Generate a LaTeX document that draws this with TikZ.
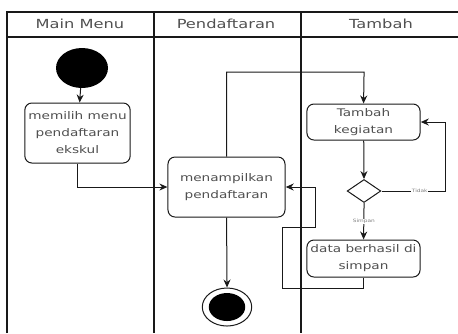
\documentclass[tikz,border=0pt]{standalone}
\usepackage{fontspec}
\setmainfont{DejaVu Sans}
\usepackage{xcolor}
\definecolor{laneline}{RGB}{25,25,25}
\definecolor{inkgray}{RGB}{80,80,80}
\usepackage{tikz}
\usetikzlibrary{
    arrows.meta,
    positioning,
    shapes.geometric
}
\tikzset{
    actbox/.style    = {rectangle, draw=laneline, fill=white, line width=1pt,
                        rounded corners=7pt, align=center, inner sep=2pt,
                        font=\fontsize{10.5}{17}\selectfont, text=inkgray},
    startdot/.style  = {circle, fill=black, inner sep=0pt, minimum size=40pt},
    endring/.style   = {circle, draw=laneline, line width=1pt, fill=white,
                        inner sep=0pt, minimum size=38pt},
    enddot/.style    = {circle, fill=black, inner sep=0pt, minimum size=28pt},
    choice/.style    = {diamond, draw=laneline, fill=white, line width=1pt,
                        inner sep=0pt, minimum width=26pt, minimum height=23pt},
    flow/.style      = {-{Stealth[length=8pt,width=7pt]}, line width=1pt, draw=laneline},
    lanetitle/.style = {font=\fontsize{12.5}{15}\selectfont, text=inkgray},
    guardlbl/.style  = {font=\fontsize{4.5}{5}\selectfont, text=black!50,
                        fill=white, inner sep=0.5pt}
}

\begin{document}
\begin{tikzpicture}[
    x=0.7692pt, y=-1pt, xscale=1.3,
    every node/.append style = {transform shape}
]
\useasboundingbox (0,0) rectangle (458,333);

% --- Swimlanes ---
\draw[laneline, line width=1.3pt] (7,333) -- (7,12) -- (458,12);
\draw[laneline, line width=1.3pt] (7,37) -- (458,37);
\draw[laneline, line width=1.3pt] (154,12) -- (154,333);
\draw[laneline, line width=1.3pt] (301,12) -- (301,333);

\node[lanetitle] (laneMain)   at (80,24)  {Main Menu};
\node[lanetitle] (laneDaftar) at (226,24) {Pendaftaran};
\node[lanetitle] (laneTambah) at (381,24) {Tambah};

% --- Activities ---
\node[startdot] (start) at (82,68) {};
\node[actbox, minimum width=81pt, minimum height=60pt] (pilih) at (77.5,133)
   {memilih menu\\pendaftaran\\ekskul};
\node[actbox, minimum width=90pt, minimum height=60pt] (tampil) at (226.5,187)
   {menampilkan\\pendaftaran};
\node[actbox, minimum width=87pt, minimum height=36pt] (tambahkeg) at (363.5,122)
   {Tambah\\kegiatan};
\node[choice] (cek) at (364,191) {};
\node[actbox, minimum width=87pt, minimum height=37pt, inner xsep=0pt] (simpan) at (363.5,258.5)
   {data berhasil di\\simpan};
\node[endring] (finish) at (227,307) {};
\node[enddot]  (finishdot) at (227,307) {};

% --- Bend points ---
\coordinate (topturn)  at (364,72);
\coordinate (loopturn) at (445,191);
\coordinate (backlow)  at (282,288);
\coordinate (backmid)  at (315,227);

% --- Flow ---
\draw[flow] (start) -- (pilih);
\draw[flow] (pilih.south) |- (tampil.west);
\draw[flow] (tampil.north) |- (topturn) -- (tambahkeg.north);
\draw[flow] (tambahkeg) -- (cek);
\draw[flow] (cek.east) -- node[guardlbl, pos=0.6]{Tidak} (loopturn) |- (tambahkeg.east);
\draw[flow] (cek.south) -- node[guardlbl]{Simpan} (simpan.north);
\draw[flow] (simpan.south) |- (backlow) |- (backmid) |- (tampil.east);
\draw[flow] (tampil.south) -- (finish.north);

\end{tikzpicture}
\end{document}
